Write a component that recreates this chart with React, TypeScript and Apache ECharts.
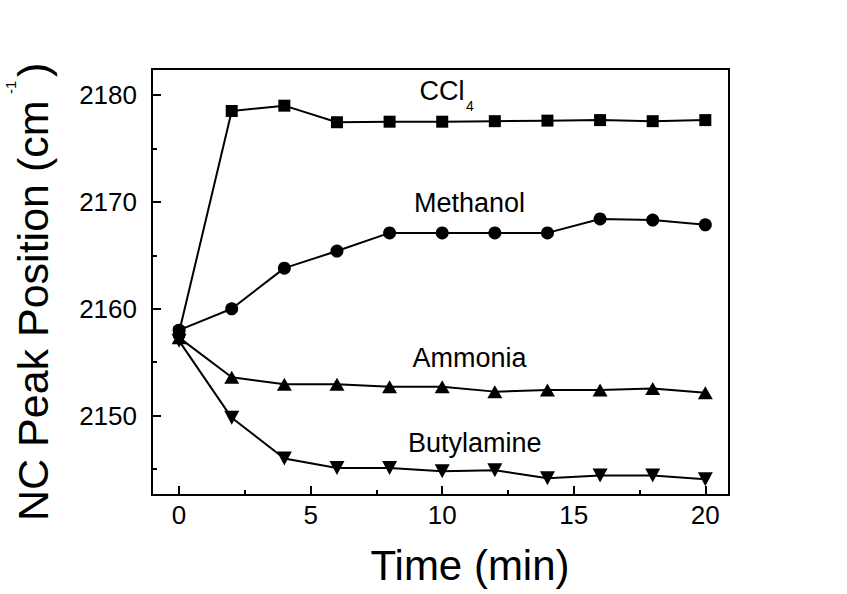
import React, { useEffect, useRef } from "react";
import * as echarts from "echarts";

const timeMin = [0, 2, 4, 6, 8, 10, 12, 14, 16, 18, 20];
const ccl4 = [2157.8, 2178.5, 2179.0, 2177.45, 2177.5, 2177.5, 2177.55, 2177.6, 2177.65, 2177.55, 2177.65];
const methanol = [2158.0, 2160.0, 2163.8, 2165.4, 2167.1, 2167.1, 2167.1, 2167.1, 2168.4, 2168.3, 2167.85];
const ammonia = [2157.3, 2153.6, 2152.95, 2152.95, 2152.7, 2152.7, 2152.25, 2152.4, 2152.4, 2152.55, 2152.15];
const butylamine = [2157.0, 2149.8, 2146.0, 2145.1, 2145.1, 2144.8, 2144.9, 2144.15, 2144.4, 2144.4, 2144.05];

const xMajorTicks = [0, 5, 10, 15, 20];
const xMinorTicks = [2.5, 7.5, 12.5, 17.5];
const yMajorTicks = [2150, 2160, 2170, 2180];
const yMinorTicks = [2145, 2155, 2165, 2175];

const FONT = "'Liberation Sans', Arial, Helvetica, sans-serif";

export default function App() {
  const ref = useRef<HTMLDivElement>(null);
  useEffect(() => {
    if (!ref.current) return;
    const chart = echarts.init(ref.current, undefined, { renderer: "svg" });
    const xMin = -1.03;
    const xMax = 20.9;
    const yMin = 2142.58;
    const yMax = 2182.43;
    const pair = (ys: number[]) => timeMin.map((t, i) => [t, ys[i]]);
    const plain = (v: number) => String(v);
    const baseSeries = {
      type: "line",
      color: "#000",
      lineStyle: { color: "#000", width: 2 },
      itemStyle: { color: "#000" },
      showSymbol: true,
      z: 3,
    };
    const xAxisCommon = {
      type: "value",
      min: xMin,
      max: xMax,
      splitLine: { show: false },
      position: "bottom",
    };
    const yAxisCommon = {
      type: "value",
      min: yMin,
      max: yMax,
      splitLine: { show: false },
      position: "left",
      offset: 0,
    };
    const annot = (text: string, x: number, y: number, fontSize = 27) => ({
      type: "text",
      x,
      y,
      style: { text, fontSize, fontFamily: FONT, fill: "#000", align: "left", verticalAlign: "middle" },
    });
    chart.setOption({
      animation: false,
      backgroundColor: "#fff",
      textStyle: { fontFamily: FONT },
      grid: {
        left: 152,
        right: 118,
        top: 69,
        bottom: 99,
        show: true,
        borderColor: "#000",
        borderWidth: 2,
        containLabel: false,
        outerBoundsMode: "none",
      },
      xAxis: [
        {
          ...xAxisCommon,
          axisLine: { show: true, onZero: false, lineStyle: { color: "#000", width: 2 } },
          axisTick: { show: true, inside: true, length: 9, customValues: xMajorTicks, lineStyle: { color: "#000", width: 2 } },
          axisLabel: { show: true, customValues: xMajorTicks, formatter: plain, color: "#000", fontSize: 26, fontFamily: FONT, margin: 7 },
        },
        {
          ...xAxisCommon,
          axisLine: { show: false, onZero: false },
          axisTick: { show: true, inside: true, length: 5, customValues: xMinorTicks, lineStyle: { color: "#000", width: 2 } },
          axisLabel: { show: false },
        },
      ],
      yAxis: [
        {
          ...yAxisCommon,
          axisLine: { show: true, onZero: false, lineStyle: { color: "#000", width: 2 } },
          axisTick: { show: true, inside: true, length: 9, customValues: yMajorTicks, lineStyle: { color: "#000", width: 2 } },
          axisLabel: { show: true, customValues: yMajorTicks, formatter: plain, color: "#000", fontSize: 26, fontFamily: FONT, margin: 15 },
        },
        {
          ...yAxisCommon,
          axisLine: { show: false, onZero: false },
          axisTick: { show: true, inside: true, length: 5, customValues: yMinorTicks, lineStyle: { color: "#000", width: 2 } },
          axisLabel: { show: false },
        },
      ],
      series: [
        { ...baseSeries, name: "Butylamine", data: pair(butylamine), symbol: "triangle", symbolRotate: 180, symbolSize: [15, 14] },
        { ...baseSeries, name: "Ammonia", data: pair(ammonia), symbol: "triangle", symbolSize: [15, 13] },
        { ...baseSeries, name: "CCl4", data: pair(ccl4), symbol: "rect", symbolSize: 12 },
        { ...baseSeries, name: "Methanol", data: pair(methanol), symbol: "circle", symbolSize: 13 },
      ],
      graphic: [
        annot("CCl", 419.5, 91),
        annot("4", 466, 105.5, 14),
        annot("Methanol", 414, 203.3),
        annot("Ammonia", 412.5, 357.7),
        annot("Butylamine", 408, 443.3),
        { type: "text", x: 470, y: 565.4, style: { text: "Time (min)", fontSize: 42, fontFamily: FONT, fill: "#000", align: "center", verticalAlign: "middle" } },
        { type: "text", x: 33.1, y: 521, rotation: Math.PI / 2, style: { text: "NC Peak Position (cm", fontSize: 43, fontFamily: FONT, fill: "#000", align: "left", verticalAlign: "middle" } },
        { type: "text", x: 10.5, y: 94, rotation: Math.PI / 2, style: { text: "-1", fontSize: 15, fontFamily: FONT, fill: "#000", align: "left", verticalAlign: "middle" } },
        { type: "text", x: 33.1, y: 77, rotation: Math.PI / 2, style: { text: ")", fontSize: 43, fontFamily: FONT, fill: "#000", align: "left", verticalAlign: "middle" } },
      ],
    });
    return () => chart.dispose();
  }, []);
  return <div ref={ref} style={{ position: "fixed", left: 0, top: 0, width: 847, height: 594 }} />;
}
